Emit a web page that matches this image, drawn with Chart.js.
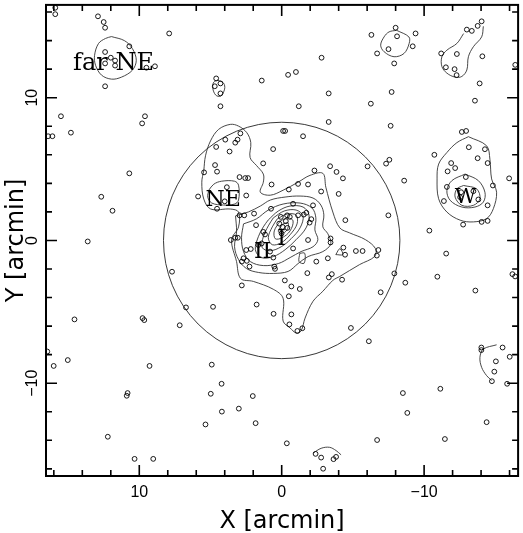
<html lang="en">
<head>
<meta charset="utf-8">
<script src="https://cdn.jsdelivr.net/npm/chart.js@4.4.1/dist/chart.umd.min.js"></script>
<style>
  body { margin: 0; background: #fff; }
  #map { display: block; }
</style>
</head>
<body>
<canvas id="map" width="523" height="533"></canvas>
<script>
// source positions [arcmin]
const pointX = [15.9,15.9,12.9,12.5,12.4,7.9,10.7,12.4,12.0,11.7,12.4,11.7,9.5,8.9,12.4,15.5,9.6,9.8,14.8,16.4,16.1,10.7,
  -2.8,-0.45,-1.0,1.4,-3.3,-1.2,-3.3,-0.1,-0.24,-1.5,0.6,1.3,-3.4,-3.85,-4.3,-2.3,
  4.6,4.3,4.7,4.3,4.3,2.9,3.96,3.1,3.26,4.6,3.66,4.68,4.54,5.45,2.96,2.56,2.36,
  -6.3,-8.0,-8.1,-9.4,-9.2,-7.5,-6.7,-7.9,-13.0,-13.35,-13.76,-14.04,-12.3,-14.09,-11.2,-11.53,-12.14,-12.28,-16.4,-13.9,-13.57,-7.72,-6.26,-7.65,
  -12.65,-12.95,-10.72,-7.33,-7.56,-6.03,-8.6,-15.97,
  -13.14,-14.27,-13.76,-14.46,-11.9,-12.18,-11.65,-12.93,-14.83,-11.6,-12.6,-13.46,-13.81,-12.53,-11.39,-14.46,-14.04,-14.46,-12.74,-10.37,
  -14.76,-14.93,-15.04,-15.83,-14.02,-14.02,-15.51,-16.01,-8.51,-11.14,-8.82,-14.39,-6.7,-11.46,
  -11.55,-10.93,-8.68,-7.91,-6.95,-13.6,-16.2,-16.39,-4.86,-6.12,-6.79,-6.68,-5.21,-5.68,-4.33,-4.45,-4.24,-3.52,-3.43,-3.43,-3.31,
  12.67,11.88,13.62,7.7,6.72,7.16,14.55,9.77,9.65,16.46,15.02,16.01,9.28,5.87,
  10.82,10.88,12.21,10.33,9.02,
  -0.54,-1.1,-1.45,4.91,4.22,4.98,2.03,4.2,3.01,5.35,1.83,-0.36,-2.38,-2.77,-3.64,-3.82,-2.91,
  0.71,-0.5,-1.15,-1.85,3.85,2.49,-2.77,-4.0,4.0,4.54,0.75,-0.8,-2.2,2.96,2.63,1.94,-7.49,-4.47,
  0.06,-0.38,-0.57,0.17,-0.29,-0.06,-0.4,0.01,1.29,1.17,1.8,-1.73,-2.08,-1.96,-1.15,-1.55,
  -1.85,3.26,3.08,3.57,1.64,1.41,0.82,2.49,2.17,2.68,0.59,2.8,2.45,2.26,0.52,0.47,-1.8,-0.8,-2.43,-3.24,
  2.8,-0.68,-1.27,-0.22,-0.5,4.82,1.76,0.57,-0.68];
const pointY = [16.3,15.85,15.7,15.3,14.9,14.5,13.6,13.2,12.8,12.6,12.4,12.25,12.1,12.2,10.8,8.7,8.7,8.2,7.55,7.3,7.3,4.7,
  12.8,11.6,11.8,11.2,10.3,9.4,8.3,7.67,7.67,7.3,6.4,5.4,5.2,4.8,4.35,4.9,
  11.35,11.0,10.8,10.3,9.4,7.5,7.06,7.06,6.85,6.55,6.23,5.28,4.82,4.77,4.44,4.37,4.37,
  14.4,14.9,14.3,14.5,13.6,13.4,13.1,12.4,14.77,14.68,15.03,15.35,13.06,12.9,13.1,12.13,12.0,11.58,12.3,11.0,9.79,10.4,9.58,8.03,
  7.6,7.67,6.0,5.38,5.65,5.19,4.19,4.35,
  6.53,6.39,5.76,5.42,5.42,5.07,4.84,4.44,3.85,3.75,3.38,3.45,2.87,3.03,2.76,2.46,1.3,1.37,1.11,0.69,
  -9.86,-9.19,-8.47,-10.04,-7.5,-7.68,-7.5,-8.15,-10.69,-10.39,-12.08,-12.73,-13.98,-13.91,
  -0.92,-2.54,-2.96,-2.31,-3.63,-3.51,-2.36,-2.52,-6.13,-7.06,-0.67,-1.06,-0.74,-0.74,-0.5,-1.0,-2.75,-2.36,0.14,-0.14,-2.59,
  3.06,2.08,-0.07,-2.19,-4.69,-5.94,-5.53,-5.44,-5.58,-7.78,-8.38,-8.79,-8.79,3.08,
  -10.69,-10.88,-13.75,-15.3,-15.3,
  -5.88,-6.34,-6.15,-8.7,-10.04,-10.74,-10.9,-11.99,-11.78,-12.89,-12.8,-14.21,-14.95,-15.21,-15.32,-15.16,-15.99,
  3.92,3.57,3.96,3.92,3.73,3.15,3.43,3.26,2.74,2.22,2.22,2.57,2.46,1.76,1.76,1.88,1.76,1.42,
  1.65,1.76,1.65,1.18,1.35,0.95,0.88,0.49,0.6,0.42,1.07,1.94,1.49,1.25,1.76,1.81,
  0.03,0.19,0.19,0.03,-0.32,-0.21,-0.78,-0.67,-0.6,-1.25,-1.2,-1.48,-1.43,-1.83,-1.83,-1.99,-2.29,-0.56,-1.48,-1.25,
  -3.15,-3.22,-3.4,-2.8,-3.91,-4.65,-4.49,-5.14,-5.18];

// density contours [arcmin]
const outerX = [5.47,5.35,5.0,4.43,3.61,3.03,2.45,2.17,2.22,1.76,1.29,1.29,1.5,0.8,-0.1,-1.15,-1.99,-2.89,-3.1,-3.59,-4.08,-4.77,-5.89,-6.59,-6.52,-5.47,-4.08,-3.59,-2.89,-2.2,-1.64,-1.36,-1.01,-0.59,-0.1,-0.1,0.59,1.99,2.89,3.17,3.52,3.03,3.03,3.59,4.98,5.47,5.61];
const outerY = [4.89,5.93,6.97,7.78,8.13,8.01,7.55,6.85,5.81,5.24,4.65,4.08,3.38,3.17,3.52,4.08,4.56,4.70,3.73,1.99,0.88,0.53,0.05,-0.58,-1.13,-1.69,-2.52,-2.8,-3.56,-4.26,-5.44,-6.34,-6.48,-6.13,-5.65,-4.05,-3.42,-2.87,-2.66,-1.48,0.05,0.95,1.99,2.2,2.2,2.9,4.08];
const lev2X = [3.24,2.33,1.5,0.8,-0.24,-1.29,-2.2,-2.75,-2.96,-2.89,-3.24,-3.45,-2.89,-1.85,-1.15,-0.45,0.59,1.64,2.47,3.03,3.31,3.17];
const lev2Y = [1.72,2.0,2.41,2.83,3.04,3.11,2.97,2.48,1.79,0.95,0.47,-0.23,-0.78,-1.13,-1.62,-2.17,-2.31,-2.24,-1.97,-1.34,-0.44,0.6];
const lev3X = [2.68,1.78,0.94,-0.1,-1.29,-2.13,-2.4,-2.33,-2.54,-2.2,-1.36,-0.59,0.24,1.29,2.2,2.68,2.82];
const lev3Y = [1.16,1.51,2.13,2.55,2.62,2.27,1.58,0.74,0.05,-0.44,-0.78,-1.2,-1.62,-1.76,-1.48,-0.78,0.19];
const lev4X = [0.94,0.24,-0.59,-1.5,-1.92,-1.71,-1.01,-0.24,0.59,1.43,1.85,1.64,1.29];
const lev4Y = [1.44,2.06,2.41,2.34,1.78,0.88,0.05,-0.65,-1.13,-1.2,-0.65,0.26,0.95];
const lev5X = [0.59,-0.17,-1.01,-1.5,-1.29,-0.66,0.03,0.8,1.36,1.29,0.94];
const lev5Y = [1.58,2.06,2.13,1.72,0.88,0.12,-0.44,-0.72,-0.51,0.26,1.02];
const lev6X = [0.31,-0.38,-1.01,-1.08,-0.59,0.03,0.66,0.94,0.66];
const lev6Y = [1.51,1.85,1.78,1.16,0.4,-0.16,-0.3,0.19,0.95];
const lev7X = [0.1,-0.45,-0.8,-0.59,-0.03,0.45,0.52];
const lev7Y = [1.37,1.58,1.37,0.67,0.19,0.12,0.67];
const lev8X = [-0.1,-0.45,-0.38,0.03,0.24];
const lev8Y = [1.16,1.23,0.74,0.47,0.67];
const neX = [5.12,4.77,4.22,3.31,3.03,3.03,3.31,4.08,4.91,5.19];
const neY = [3.52,3.94,4.15,4.15,3.87,2.83,2.55,2.48,2.62,3.03];
const boxX = [-1.27,-1.62,-1.57,-1.22];
const boxY = [-0.9,-0.9,-1.6,-1.48];
const triX = [-3.8,-4.08,-4.29];
const triY = [-0.99,-0.58,-0.99];
const farNeX = [11.95,11.05,10.49,10.21,10.49,11.25,11.95,12.65,13.07,13.14,12.86,12.37];
const farNeY = [14.28,14.0,13.45,12.62,11.92,11.44,11.3,11.58,12.27,12.97,13.8,14.15];
const clumpX = [4.49,4.08,4.01,4.29,4.63,4.84,4.77];
const clumpY = [11.23,11.02,10.6,10.11,10.18,10.67,11.09];
const nwX = [-8.07,-8.93,-8.95,-8.59,-7.89,-7.19,-6.95,-7.19,-7.54];
const nwY = [14.72,14.26,13.8,13.1,12.87,13.22,13.68,14.26,14.61];
const wOuterX = [-13.11,-14.39,-14.62,-14.74,-15.09,-14.86,-14.39,-13.46,-12.53,-11.6,-11.02,-10.91,-11.02,-11.6,-12.3];
const wOuterY = [7.27,6.63,5.69,4.31,3.38,2.22,1.53,1.3,1.42,1.99,2.92,4.31,5.35,6.16,6.85];
const wMidX = [-12.88,-13.81,-14.27,-14.16,-13.57,-12.65,-11.83,-11.6,-11.95];
const wMidY = [4.65,4.19,3.38,2.69,2.34,2.34,2.81,3.5,4.19];
const wInX = [-12.77,-13.69,-13.92,-13.46,-12.65,-12.18,-12.3];
const wInY = [3.85,3.61,2.92,2.46,2.46,3.03,3.61];
// open contour pieces
const pearX = [-12.77,-12.3,-11.6,-11.25,-11.25,-11.6,-12.18,-12.65,-13.0,-13.11,-13.46,-14.04,-14.16];
const pearY = [14.49,13.8,13.33,12.87,12.18,11.72,11.44,11.49,11.94,12.87,13.57,14.26,15.0];
const seArcX = [-15.09,-14.16,-13.92,-14.04,-14.39,-14.74];
const seArcY = [-7.31,-7.61,-8.19,-8.89,-9.47,-9.81];
const sArcX = [-2.2,-2.77,-3.36,-3.82,-4.17];
const sArcY = [-14.9,-14.56,-14.49,-14.72,-15.02];

// extraction circle
const circleCenter = [0, 0];
const circleRadius = 8.3;

// labels
const labelText = ['far NE', 'NE', 'W', 'I', 'II'];
const labelX = [11.81, 4.11, -12.91, 0.0, 1.34];
const labelY = [11.92, 2.41, 2.64, -0.32, -1.25];
const labelSize = [24, 22, 21, 22, 22];

// axes
const xRange = [-16.6, 16.55];
const yRange = [-16.5, 16.5];
const minorTicks = [-16,-14,-12,-10,-8,-6,-4,-2,0,2,4,6,8,10,12,14,16];
const majorTicks = [-10, 0, 10];
const tickLabels = ['\u221210', '0', '10'];

function pts(xs, ys, close) {
  const p = xs.map((x, i) => ({x: x, y: ys[i]}));
  if (close) p.push({x: xs[0], y: ys[0]});
  return p;
}

function contour(xs, ys, close) {
  return {
    type: 'line', data: pts(xs, ys, close), showLine: true, fill: false,
    borderColor: '#333', borderWidth: 0.9, pointRadius: 0, tension: 0.35
  };
}

const overlay = {
  id: 'overlay',
  afterDatasetsDraw(chart) {
    const ctx = chart.ctx, a = chart.chartArea;
    const xs = chart.scales.x, ys = chart.scales.y;
    ctx.save();
    // circle
    ctx.beginPath();
    ctx.rect(a.left, a.top, a.right - a.left, a.bottom - a.top);
    ctx.clip();
    const cx = xs.getPixelForValue(circleCenter[0]), cy = ys.getPixelForValue(circleCenter[1]);
    const r = Math.abs(xs.getPixelForValue(circleCenter[0] + circleRadius) - cx);
    ctx.beginPath();
    ctx.arc(cx, cy, r, 0, Math.PI * 2);
    ctx.strokeStyle = '#222';
    ctx.lineWidth = 0.9;
    ctx.stroke();
    // labels
    ctx.fillStyle = '#000';
    ctx.textAlign = 'center';
    ctx.textBaseline = 'alphabetic';
    labelText.forEach((t, i) => {
      ctx.font = labelSize[i] + 'px "DejaVu Serif"';
      ctx.fillText(t, xs.getPixelForValue(labelX[i]), ys.getPixelForValue(labelY[i]));
    });
    ctx.restore();

    // frame and inward ticks
    ctx.save();
    ctx.strokeStyle = '#000';
    ctx.lineWidth = 2;
    ctx.strokeRect(a.left, a.top, a.right - a.left, a.bottom - a.top);
    ctx.lineWidth = 1.6;
    ctx.beginPath();
    minorTicks.forEach(v => {
      const len = majorTicks.includes(v) ? 11 : 6;
      const px = xs.getPixelForValue(v);
      if (px > a.left + 1 && px < a.right - 1) {
        ctx.moveTo(px, a.bottom); ctx.lineTo(px, a.bottom - len);
        ctx.moveTo(px, a.top); ctx.lineTo(px, a.top + len);
      }
      const py = ys.getPixelForValue(v);
      if (py > a.top + 1 && py < a.bottom - 1) {
        ctx.moveTo(a.left, py); ctx.lineTo(a.left + len, py);
        ctx.moveTo(a.right, py); ctx.lineTo(a.right - len, py);
      }
    });
    ctx.stroke();

    // tick labels
    ctx.fillStyle = '#000';
    ctx.font = '16px "Liberation Sans"';
    ctx.textAlign = 'center';
    majorTicks.forEach((v, i) => {
      ctx.textBaseline = 'alphabetic';
      ctx.fillText(tickLabels[i], xs.getPixelForValue(v), a.bottom + 21);
      ctx.save();
      ctx.translate(a.left - 9, ys.getPixelForValue(v));
      ctx.rotate(-Math.PI / 2);
      ctx.fillText(tickLabels[i], 0, 0);
      ctx.restore();
    });

    // axis titles
    ctx.font = '24px "DejaVu Sans"';
    ctx.fillText('X [arcmin]', (a.left + a.right) / 2, a.bottom + 52);
    ctx.save();
    ctx.translate(a.left - 23, (a.top + a.bottom) / 2);
    ctx.rotate(-Math.PI / 2);
    ctx.fillText('Y [arcmin]', 0, 0);
    ctx.restore();
    ctx.restore();
  }
};

new Chart(document.getElementById('map'), {
  type: 'scatter',
  data: {
    datasets: [
      {
        data: pts(pointX, pointY, false),
        pointStyle: 'circle', pointRadius: 2.4,
        borderColor: '#000', borderWidth: 0.9,
        backgroundColor: 'rgba(0,0,0,0)'
      },
      contour(outerX, outerY, true),
      contour(lev2X, lev2Y, true),
      contour(lev3X, lev3Y, true),
      contour(lev4X, lev4Y, true),
      contour(lev5X, lev5Y, true),
      contour(lev6X, lev6Y, true),
      contour(lev7X, lev7Y, true),
      contour(lev8X, lev8Y, true),
      contour(neX, neY, true),
      contour(boxX, boxY, true),
      contour(triX, triY, true),
      contour(farNeX, farNeY, true),
      contour(clumpX, clumpY, true),
      contour(nwX, nwY, true),
      contour(wOuterX, wOuterY, true),
      contour(wMidX, wMidY, true),
      contour(wInX, wInY, true),
      contour(pearX, pearY, false),
      contour(seArcX, seArcY, false),
      contour(sArcX, sArcY, false)
    ]
  },
  options: {
    responsive: false,
    animation: false,
    layout: { padding: { left: 46, right: 1, top: 1, bottom: 57 } },
    plugins: { legend: { display: false }, tooltip: { enabled: false } },
    scales: {
      x: { type: 'linear', reverse: true, min: xRange[0], max: xRange[1], display: false },
      y: { type: 'linear', min: yRange[0], max: yRange[1], display: false }
    }
  },
  plugins: [overlay]
});
</script>
</body>
</html>
